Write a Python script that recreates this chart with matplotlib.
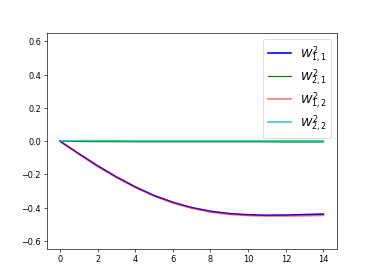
import matplotlib
matplotlib.use('Agg')
import matplotlib.pyplot as plt

steps = list(range(15))
w11 = [0.0, -0.075, -0.148, -0.215, -0.275, -0.327, -0.368, -0.400, -0.422,
       -0.436, -0.443, -0.446, -0.445, -0.442, -0.439]
w21 = [0.0, -0.002, -0.003, -0.003, -0.004, -0.004, -0.004, -0.004, -0.004,
       -0.004, -0.004, -0.004, -0.005, -0.005, -0.005]
w12 = [0.0, -0.078, -0.152, -0.219, -0.279, -0.331, -0.372, -0.404, -0.427,
       -0.441, -0.448, -0.451, -0.451, -0.449, -0.447]
w22 = [0.0, 0.003, 0.003, 0.003, 0.002, 0.002, 0.002, 0.002, 0.002,
       0.002, 0.002, 0.002, 0.002, 0.002, 0.002]

fig = plt.figure(figsize=(6.4, 4.8), dpi=374 / 6.4)
ax = fig.add_subplot(111)
ax.plot(steps, w11, color="blue", lw=2, label="$W^2_{1,1}$")
ax.plot(steps, w21, color="green", lw=1.5, label="$W^2_{2,1}$")
ax.plot(steps, w12, color="red", lw=2, alpha=0.55, label="$W^2_{1,2}$")
ax.plot(steps, w22, color="c", lw=2, alpha=0.8, label="$W^2_{2,2}$")
ax.set_ylim(-0.65, 0.65)
ax.set_xticks(range(0, 15, 2))
ax.legend(loc="upper right", fontsize=14, labelspacing=0.2)
fig.savefig("out.png")
